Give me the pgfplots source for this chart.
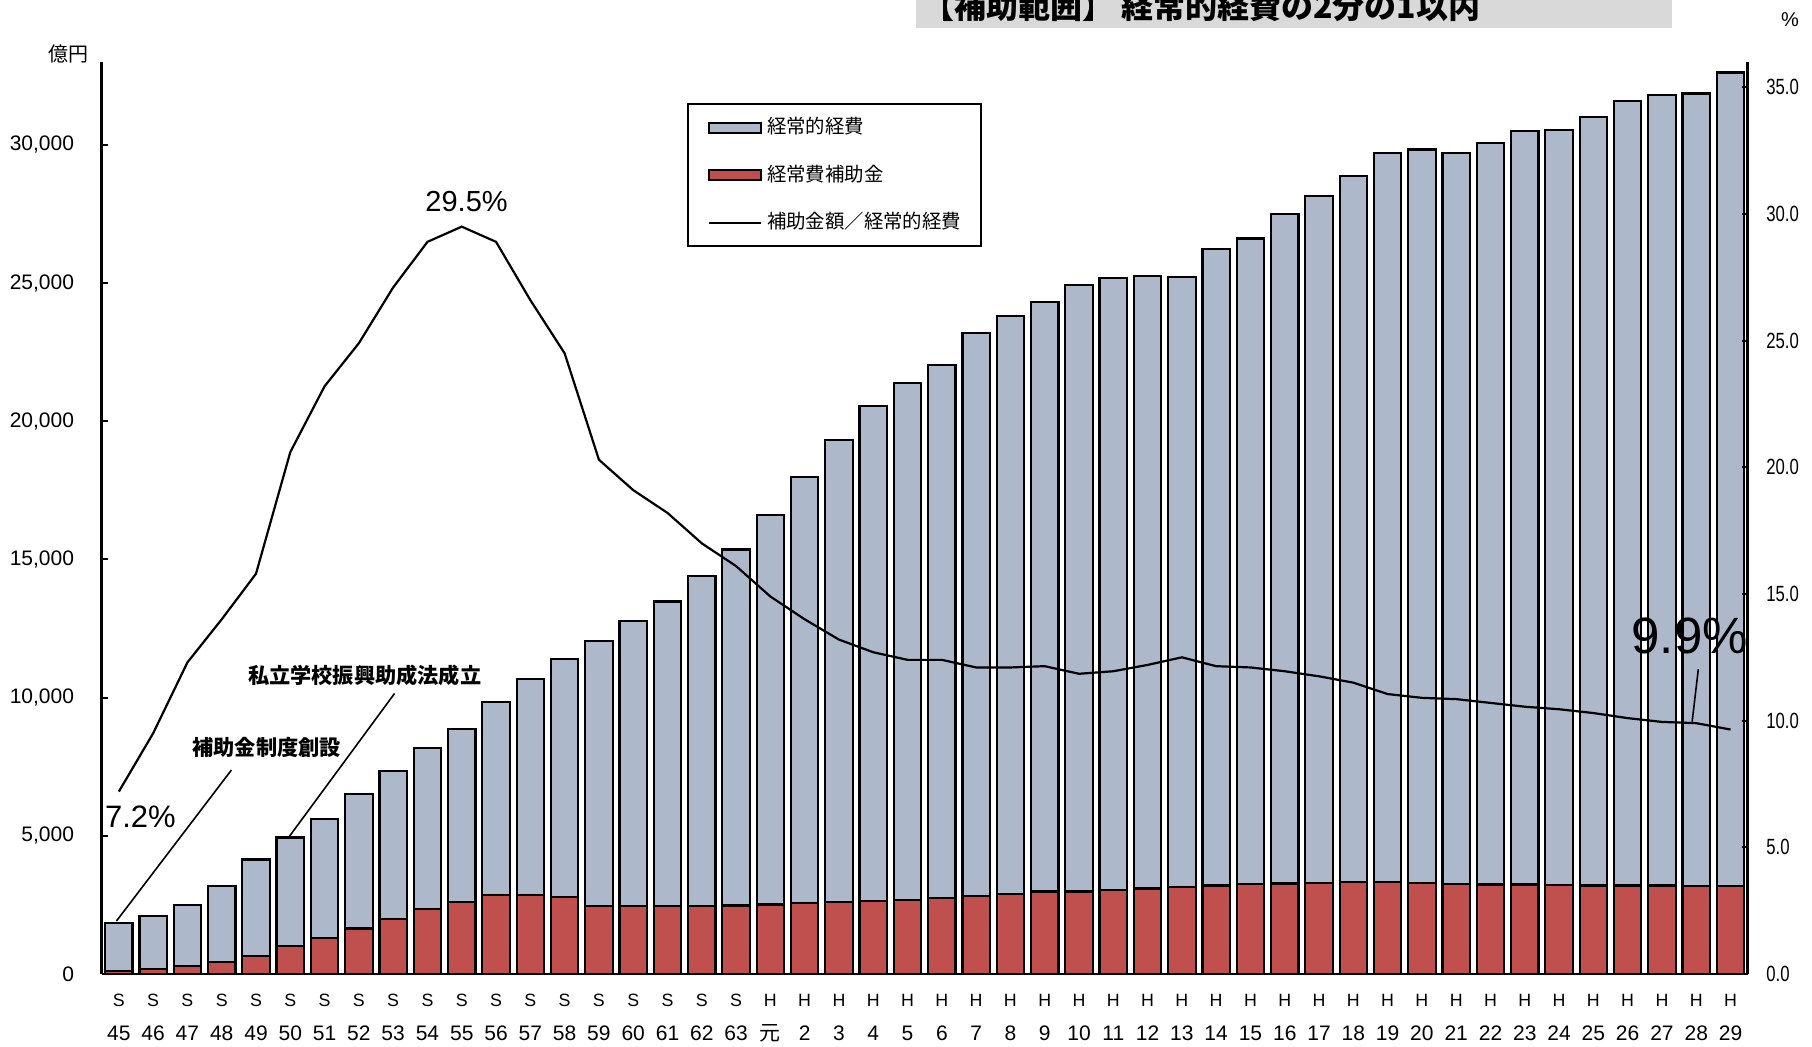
\documentclass[border=0pt]{standalone}
\usepackage{fontspec}
\usepackage{pgfplots}
\usepackage{pgfplotstable}
\pgfplotsset{compat=1.18}
\setmainfont{Liberation Sans}
\newfontfamily\jp{Noto Sans CJK JP}
\newfontfamily\narrow[FakeStretch=0.76]{Liberation Sans}
\definecolor{barblue}{HTML}{ADB9CA}
\definecolor{barred}{HTML}{C0504D}
\definecolor{titlegray}{HTML}{D9D9D9}
\newcommand{\xl}[2]{{\fontsize{8.9pt}{17pt}\selectfont #1}\\#2}
\newcommand{\leg}[1]{\makebox[107pt][l]{#1}}

\pgfplotstableread{
i total sub ratio
0 1840 121 7.2
1 2090 193 9.5
2 2510 302 12.3
3 3180 435 14.0
4 4140 640 15.8
5 4940 1014 20.6
6 5610 1316 23.2
7 6520 1643 24.9
8 7340 1993 27.1
9 8170 2355 28.9
10 8860 2609 29.5
11 9840 2850 28.9
12 10670 2850 26.6
13 11390 2778 24.5
14 12060 2464 20.3
15 12770 2464 19.1
16 13480 2464 18.2
17 14390 2464 17.0
18 15360 2476 16.1
19 16610 2512 14.9
20 17990 2560 14.0
21 19330 2597 13.2
22 20540 2633 12.7
23 21380 2681 12.4
24 22050 2742 12.4
25 23180 2826 12.1
26 23810 2899 12.1
27 24310 2983 12.15
28 24940 2983 11.85
29 25190 3043 11.95
30 25270 3092 12.2
31 25230 3140 12.5
32 26230 3200 12.15
33 26610 3249 12.1
34 27490 3273 11.95
35 28160 3297 11.75
36 28870 3321 11.5
37 29710 3321 11.05
38 29830 3285 10.9
39 29710 3249 10.85
40 30080 3237 10.7
41 30500 3237 10.55
42 30540 3225 10.45
43 31000 3200 10.3
44 31590 3200 10.1
45 31800 3200 9.95
46 31860 3176 9.9
47 32620 3176 9.65
}\datatable

\begin{document}
\begin{tikzpicture}
\useasboundingbox (-50.85pt,-36.5pt) rectangle (855.15pt,487pt);
\fill[titlegray] (407.15pt,473pt) rectangle (785.15pt,500pt);
\node[anchor=base west, inner sep=0pt, font=\jp\bfseries\fontsize{16pt}{18pt}\selectfont] at (410pt,477.5pt) {【補助範囲】 経常的経費の2分の1以内};

\begin{axis}[
  at={(0pt,0pt)}, anchor=south west,
  scale only axis, width=823pt, height=456pt,
  xmin=-0.5, xmax=47.5, ymin=0, ymax=33000,
  axis x line*=bottom, axis y line*=left,
  axis line style={line width=1.2pt},
  xtick={0,...,47},
  xticklabels={{\xl{S}{45}},{\xl{S}{46}},{\xl{S}{47}},{\xl{S}{48}},{\xl{S}{49}},{\xl{S}{50}},{\xl{S}{51}},{\xl{S}{52}},{\xl{S}{53}},{\xl{S}{54}},{\xl{S}{55}},{\xl{S}{56}},{\xl{S}{57}},{\xl{S}{58}},{\xl{S}{59}},{\xl{S}{60}},{\xl{S}{61}},{\xl{S}{62}},{\xl{S}{63}},{\xl{H}{{\jp 元}}},{\xl{H}{2}},{\xl{H}{3}},{\xl{H}{4}},{\xl{H}{5}},{\xl{H}{6}},{\xl{H}{7}},{\xl{H}{8}},{\xl{H}{9}},{\xl{H}{10}},{\xl{H}{11}},{\xl{H}{12}},{\xl{H}{13}},{\xl{H}{14}},{\xl{H}{15}},{\xl{H}{16}},{\xl{H}{17}},{\xl{H}{18}},{\xl{H}{19}},{\xl{H}{20}},{\xl{H}{21}},{\xl{H}{22}},{\xl{H}{23}},{\xl{H}{24}},{\xl{H}{25}},{\xl{H}{26}},{\xl{H}{27}},{\xl{H}{28}},{\xl{H}{29}}},
  x tick style={draw=none},
  xticklabel style={align=center, font=\fontsize{10.5pt}{17pt}\selectfont, yshift=-6.5pt},
  ytick={0,5000,10000,15000,20000,25000,30000},
  scaled y ticks=false,
  y tick style={line width=1pt, black},
  tick align=inside, major tick length=3pt,
  yticklabel style={font=\fontsize{10.5pt}{12pt}\selectfont, xshift=-10.3pt},
  /pgf/number format/1000 sep={,},
  /pgf/number format/assume math mode=true,
  clip=false,
]
\addplot[ybar, bar width=0.8, bar shift=0pt, fill=barblue, draw=black, line width=1.1pt] table[x=i,y=total]{\datatable};
\addplot[ybar, bar width=0.8, bar shift=0pt, fill=barred, draw=black, line width=1.1pt] table[x=i,y=sub]{\datatable};
\node[font=\jp\bfseries\fontsize{10.6pt}{12pt}\selectfont] at (axis cs:4.31,8180) {補助金制度創設};
\node[font=\jp\bfseries\fontsize{10.6pt}{12pt}\selectfont] at (axis cs:7.17,10810) {私立学校振興助成法成立};
\draw[line width=0.8pt] (axis cs:3.28,7375) -- (axis cs:-0.07,1916);
\draw[line width=0.8pt] (axis cs:8.04,10150) -- (axis cs:4.98,4990);
\end{axis}

\begin{axis}[
  at={(0pt,0pt)}, anchor=south west,
  scale only axis, width=823pt, height=456pt,
  xmin=-0.5, xmax=47.5, ymin=0, ymax=36,
  axis x line=none, axis y line*=right,
  axis line style={line width=1.2pt},
  ytick={0,5,10,15,20,25,30,35},
  y tick style={line width=1pt, black},
  tick align=inside, major tick length=3pt,
  yticklabel style={font=\narrow\fontsize{11pt}{12pt}\selectfont, xshift=5.8pt,
    /pgf/number format/fixed, /pgf/number format/fixed zerofill, /pgf/number format/precision=1},
  /pgf/number format/assume math mode=true,
  clip=false,
  legend style={at={(0.3558,0.9547)}, anchor=north west, draw=black, line width=1pt, fill=white,
    inner xsep=0pt, inner ysep=6.7pt, row sep=13.75pt, column sep=2.4pt,
    font=\jp\fontsize{9.7pt}{11pt}\selectfont, nodes={inner sep=0pt, text height=8pt, text depth=2pt}},
  legend cell align=left,
]
\addlegendimage{legend image code/.code={\path[draw=none,fill=none] (-10.5pt,0pt) -- (26pt,0pt); \draw[fill=barblue,draw=black,line width=1pt] (0pt,-2.5pt) rectangle (26pt,2.5pt);}}
\addlegendentry{\leg{経常的経費}}
\addlegendimage{legend image code/.code={\path[draw=none,fill=none] (-10.5pt,0pt) -- (26pt,0pt); \draw[fill=barred,draw=black,line width=1pt] (0pt,-2.5pt) rectangle (26pt,2.5pt);}}
\addlegendentry{\leg{経常費補助金}}
\addplot[black, line width=1.1pt, legend image code/.code={\path[draw=none,fill=none] (-10.5pt,0pt) -- (26pt,0pt); \draw[black,line width=1pt] (0pt,0pt) -- (26pt,0pt);}] table[x=i,y=ratio]{\datatable};
\addlegendentry{\leg{補助金額／経常的経費}}
\node[font=\fontsize{14.5pt}{16pt}\selectfont] at (axis cs:10.14,30.5) {29.5\%};
\node[font=\fontsize{15.5pt}{17pt}\selectfont] at (axis cs:0.63,6.21) {7.2\%};
\node[font=\fontsize{25.5pt}{28pt}\selectfont] at (axis cs:45.81,13.36) {9.9\%};
\draw[line width=0.8pt] (axis cs:46.06,12.03) -- (axis cs:45.88,9.96);
\end{axis}

\node[font=\jp\fontsize{10pt}{12pt}\selectfont] at (-16.35pt,460pt) {億円};
\node[font=\fontsize{10pt}{12pt}\selectfont] at (844.15pt,477pt) {\%};
\end{tikzpicture}
\end{document}
